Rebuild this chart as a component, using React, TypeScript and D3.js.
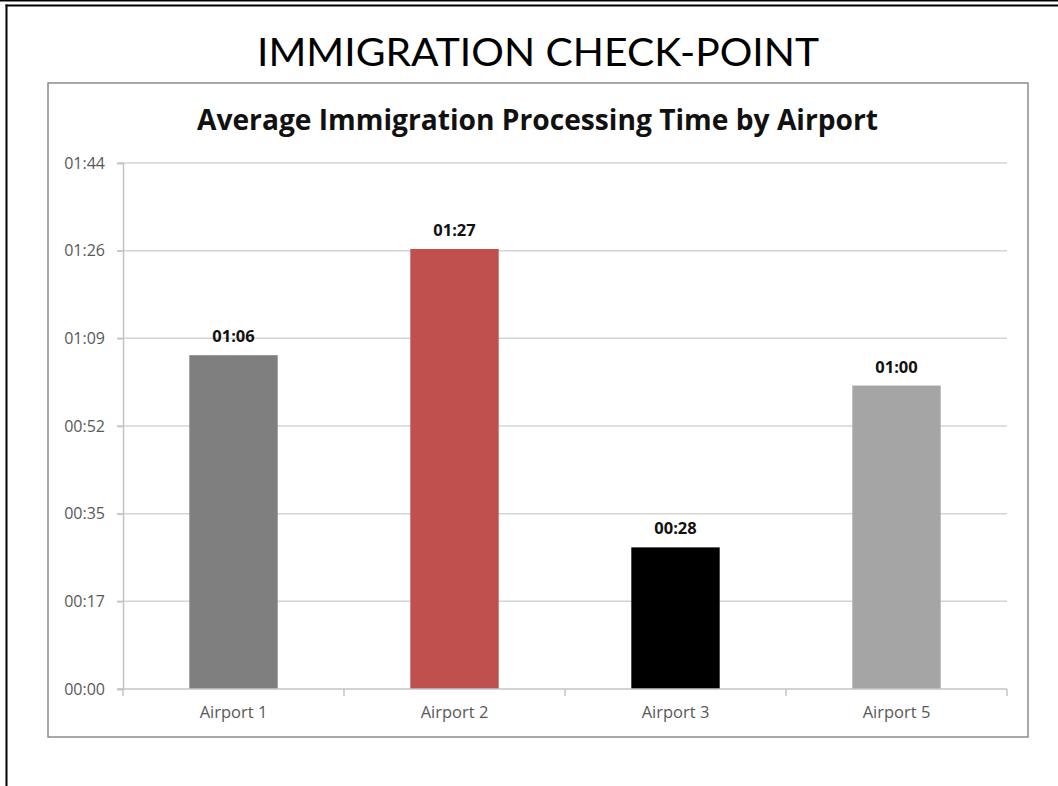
import React, { useEffect, useRef } from 'react';
import * as d3 from 'd3';

// data (seconds)
const airports = ['Airport 1', 'Airport 2', 'Airport 3', 'Airport 5'];
const avgSeconds = [66, 87, 28, 60];
const barColors = ['#7f7f7f', '#c0504d', '#000000', '#a5a5a5'];
const yTickLabels = ['00:00', '00:17', '00:35', '00:52', '01:09', '01:26', '01:44'];
const yMax = 104;

const fmt = (s: number) => {
    const m = Math.floor(s / 60);
    const r = Math.round(s % 60);
    return String(m).padStart(2, '0') + ':' + String(r).padStart(2, '0');
};

const W = 1058, H = 786;

const Chart = () => {
    const ref = useRef<SVGSVGElement>(null);

    useEffect(() => {
        const svg = d3.select(ref.current);
        svg.selectAll('*').remove();

        // slide frame
        svg.append('rect').attr('width', W).attr('height', H).attr('fill', '#fff');
        svg.append('line').attr('x1', 0).attr('x2', W).attr('y1', 0.75).attr('y2', 0.75)
            .attr('stroke', '#000').attr('stroke-width', 1.5);
        svg.append('line').attr('x1', 5.5).attr('x2', W).attr('y1', 5.5).attr('y2', 5.5)
            .attr('stroke', '#000').attr('stroke-width', 2);
        svg.append('line').attr('x1', 6.5).attr('x2', 6.5).attr('y1', 4.5).attr('y2', H)
            .attr('stroke', '#000').attr('stroke-width', 2);

        svg.append('text')
            .attr('x', 538).attr('y', 66)
            .attr('text-anchor', 'middle')
            .attr('font-family', 'Lato, sans-serif')
            .attr('font-size', 39)
            .attr('textLength', 562).attr('lengthAdjust', 'spacingAndGlyphs')
            .attr('fill', '#000')
            .text('IMMIGRATION CHECK-POINT');

        // chart box
        svg.append('rect')
            .attr('x', 48).attr('y', 83).attr('width', 980).attr('height', 654)
            .attr('fill', '#fff').attr('stroke', '#8c8c8c').attr('stroke-width', 1.5);

        svg.append('text')
            .attr('x', 537.5).attr('y', 130)
            .attr('text-anchor', 'middle')
            .attr('font-family', '"Open Sans", sans-serif')
            .attr('font-weight', 'bold')
            .attr('font-size', 29)
            .attr('textLength', 681).attr('lengthAdjust', 'spacingAndGlyphs')
            .attr('fill', '#111')
            .text('Average Immigration Processing Time by Airport');

        const x = d3.scaleBand<string>()
            .domain(airports)
            .range([123, 1007])
            .paddingInner(0.6)
            .paddingOuter(0.3);

        const y = d3.scaleLinear().domain([0, yMax]).range([689, 163]);
        const yTicks = yTickLabels.map((_, i) => (i * yMax) / (yTickLabels.length - 1));

        // gridlines
        svg.append('g')
            .selectAll('line')
            .data(yTicks.slice(1))
            .join('line')
            .attr('x1', 117).attr('x2', 1007)
            .attr('y1', d => y(d)).attr('y2', d => y(d))
            .attr('stroke', '#d4d4d4').attr('stroke-width', 1.5);

        // y axis
        const yAxis = svg.append('g')
            .attr('transform', 'translate(123,0)')
            .call(d3.axisLeft(y).tickValues(yTicks).tickSize(6).tickPadding(12)
                .tickFormat((_, i) => yTickLabels[i]));
        yAxis.select('.domain').attr('stroke', '#c4c4c4').attr('stroke-width', 1.5);
        yAxis.selectAll('.tick line').attr('stroke', '#c4c4c4').attr('stroke-width', 1.5);
        yAxis.selectAll('.tick text')
            .attr('font-family', '"Open Sans", sans-serif')
            .attr('font-size', 16)
            .attr('fill', '#595959');

        // bars
        svg.append('g')
            .selectAll('rect')
            .data(airports)
            .join('rect')
            .attr('x', d => x(d)!)
            .attr('width', x.bandwidth())
            .attr('y', (_, i) => y(avgSeconds[i]))
            .attr('height', (_, i) => y(0) - y(avgSeconds[i]))
            .attr('fill', (_, i) => barColors[i]);

        // x axis
        const xAxis = svg.append('g')
            .attr('transform', 'translate(0,689)')
            .call(d3.axisBottom(x).tickSize(0).tickPadding(17));
        xAxis.select('.domain').remove();
        xAxis.append('line').attr('x1', 117).attr('x2', 1007)
            .attr('stroke', '#c4c4c4').attr('stroke-width', 1.5);
        const step = x.step();
        xAxis.selectAll('line.sep')
            .data(d3.range(airports.length + 1))
            .join('line')
            .attr('class', 'sep')
            .attr('x1', i => 123 + i * step).attr('x2', i => 123 + i * step)
            .attr('y1', 0).attr('y2', 7)
            .attr('stroke', '#c4c4c4').attr('stroke-width', 1.5);
        xAxis.selectAll('.tick text')
            .attr('font-family', '"Open Sans", sans-serif')
            .attr('font-size', 16.5)
            .attr('fill', '#595959');

        // value labels
        svg.append('g')
            .selectAll('text')
            .data(airports)
            .join('text')
            .attr('x', d => x(d)! + x.bandwidth() / 2)
            .attr('y', (_, i) => y(avgSeconds[i]) - 13)
            .attr('text-anchor', 'middle')
            .attr('font-family', '"Open Sans", sans-serif')
            .attr('font-weight', 'bold')
            .attr('font-size', 16.5)
            .attr('fill', '#111')
            .text((_, i) => fmt(avgSeconds[i]));
    }, []);

    return <svg ref={ref} width={W} height={H} style={{ position: 'absolute', left: 0, top: 0 }} />;
};

export default function App() {
    return <Chart />;
}
